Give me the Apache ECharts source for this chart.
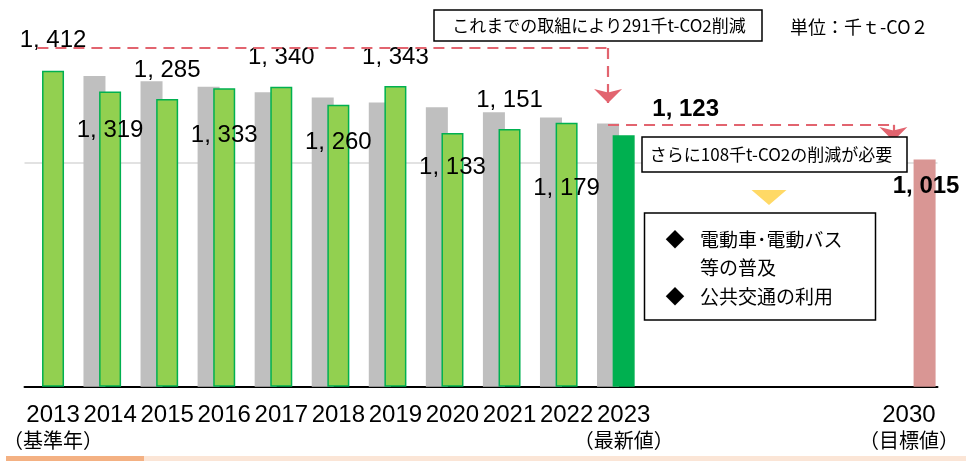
<!DOCTYPE html>
<html>
<head>
<meta charset="utf-8">
<script src="https://cdn.jsdelivr.net/npm/echarts@6.0.0/dist/echarts.min.js"></script>
<style>
  html, body { margin: 0; padding: 0; background: #fff; }
  #chart { width: 968px; height: 461px; }
</style>
</head>
<body>
<div id="chart"></div>
<script>
// categories (blank slots keep the gap between 2023 and 2030)
const categories = ['2013', '2014', '2015', '2016', '2017', '2018', '2019', '2020', '2021', '2022', '2023', '', '', '', '', '2030'];
const categoryNotes = ['（基準年）', '', '', '', '', '', '', '', '', '', '（最新値）', '', '', '', '', '（目標値）'];

// 千t-CO2
const actualValues = [1412, 1319, 1285, 1333, 1340, 1260, 1343, 1133, 1151, 1179, 1123, null, null, null, null, null];
const pathValues = [null, 1388, 1365, 1340, 1316, 1292, 1270, 1248, 1226, 1203, 1176, null, null, null, null, null];
const targetValues = [null, null, null, null, null, null, null, null, null, null, null, null, null, null, null, 1015];

const FONT_NUM = '"Liberation Sans", Arial, sans-serif';
const FONT_JP = '"Noto Sans CJK JP", sans-serif';
const RED = '#E2646F';

function fmt(v) {
  const s = String(v);
  return s.slice(0, s.length - 3) + ', ' + s.slice(-3);
}

// where each value label sits, relative to the top-left of its bar
const labelPos = [[11, -30], [11, 39], [11, -29], [11, 47], [11, -29], [11, 38], [11, -29], [11, 34], [11, -29], [11, 66], [73, -26]];

const actualData = actualValues.map((v, i) => {
  if (v == null) return '-';
  const latest = i === 10;
  return {
    value: v,
    itemStyle: latest ? { color: '#00B050', borderColor: '#00B050' } : undefined,
    label: {
      position: labelPos[i],
      fontWeight: latest ? 'bold' : 'normal'
    }
  };
});

// dashed arrows (data coords: category index, value)
const arrowLines = [
  [[0.33, 1513], [10, 1513], false],
  [[10, 1513], [10, 1268], true],
  [[10.2, 1170], [15.28, 1170], false],
  [[15.28, 1170], [15.28, 1098], true]
];

const chart = echarts.init(document.getElementById('chart'));

const option = {
  animation: false,
  grid: { left: 24.5, right: 30.5, top: 6.2, bottom: 74.3 },
  xAxis: {
    type: 'category',
    data: categories,
    axisLine: { lineStyle: { color: '#000', width: 2 } },
    axisTick: { show: false },
    axisLabel: {
      interval: 0,
      margin: 16,
      formatter: (v, i) => '{a|' + v + '}' + (categoryNotes[i] ? '\n{b|' + categoryNotes[i] + '}' : ''),
      rich: {
        a: { fontFamily: FONT_NUM, fontSize: 24, lineHeight: 25, color: '#000' },
        b: { fontFamily: FONT_JP, fontSize: 20, lineHeight: 25, color: '#000' }
      }
    }
  },
  yAxis: {
    type: 'value',
    min: 0,
    max: 1700,
    interval: 1000,
    axisLine: { show: false },
    axisTick: { show: false },
    axisLabel: { show: false },
    splitLine: {
      show: true,
      showMinLine: false,
      showMaxLine: false,
      lineStyle: { color: '#D9D9D9', width: 1.5 }
    }
  },
  series: [
    {
      name: 'path',
      type: 'bar',
      data: pathValues.map(v => v == null ? '-' : v),
      barWidth: 22,
      barGap: '-29%',
      itemStyle: { color: '#BFBFBF' },
      markLine: {
        silent: true,
        label: { show: false },
        lineStyle: { color: RED, width: 2.2, type: [11, 7] },
        data: arrowLines.map(([a, b, head]) => [
          { coord: a, symbol: 'none' },
          { coord: b, symbol: head ? 'arrow' : 'none', symbolSize: [21, 14] }
        ])
      }
    },
    {
      name: 'actual',
      type: 'bar',
      data: actualData,
      barWidth: 22,
      barGap: '-29%',
      itemStyle: { color: '#92D050', borderColor: '#00B050', borderWidth: 1.5 },
      label: {
        show: true,
        formatter: p => fmt(p.value),
        align: 'center',
        verticalAlign: 'middle',
        fontFamily: FONT_NUM,
        fontSize: 24,
        color: '#000'
      }
    },
    {
      name: 'target',
      type: 'bar',
      data: targetValues.map(v => v == null ? '-' : v),
      barWidth: 22,
      barGap: '-29%',
      itemStyle: { color: '#D99694' },
      label: {
        show: true,
        position: [12.5, 27],
        align: 'center',
        verticalAlign: 'middle',
        formatter: p => fmt(p.value),
        fontFamily: FONT_NUM,
        fontSize: 24,
        fontWeight: 'bold',
        color: '#000'
      }
    }
  ],
  graphic: [
    {
      type: 'rect', z: 10,
      shape: { x: 434, y: 10, width: 328, height: 31 },
      style: { fill: '#fff', stroke: '#000', lineWidth: 1.5 }
    },
    {
      type: 'text', z: 11, x: 599, y: 26,
      style: { text: 'これまでの取組により291千t-CO2削減', font: '17px ' + FONT_JP, fill: '#000', align: 'center', verticalAlign: 'middle' }
    },
    {
      type: 'text', z: 11, x: 790, y: 27,
      style: { text: '単位：千ｔ-CO２', font: '18px ' + FONT_JP, fill: '#000', align: 'left', verticalAlign: 'middle' }
    },
    {
      type: 'rect', z: 10,
      shape: { x: 642, y: 137, width: 265, height: 35 },
      style: { fill: '#fff', stroke: '#000', lineWidth: 1.5 }
    },
    {
      type: 'text', z: 11, x: 771, y: 155,
      style: { text: 'さらに108千t-CO2の削減が必要', font: '17px ' + FONT_JP, fill: '#000', align: 'center', verticalAlign: 'middle' }
    },
    {
      type: 'polygon', z: 10,
      shape: { points: [[751.5, 190], [786.5, 190], [769, 205]] },
      style: { fill: '#FFD966' }
    },
    {
      type: 'rect', z: 10,
      shape: { x: 644.5, y: 213, width: 231, height: 107 },
      style: { fill: '#fff', stroke: '#000', lineWidth: 1.5 }
    },
    {
      type: 'text', z: 11, x: 675, y: 240,
      style: { text: '◆', font: '19px ' + FONT_JP, fill: '#000', align: 'center', verticalAlign: 'middle' }
    },
    {
      type: 'text', z: 11, x: 675, y: 297,
      style: { text: '◆', font: '19px ' + FONT_JP, fill: '#000', align: 'center', verticalAlign: 'middle' }
    },
    {
      type: 'text', z: 11, x: 700, y: 240,
      style: { text: '電動車･電動バス', font: '19px ' + FONT_JP, fill: '#000', align: 'left', verticalAlign: 'middle' }
    },
    {
      type: 'text', z: 11, x: 700, y: 268,
      style: { text: '等の普及', font: '19px ' + FONT_JP, fill: '#000', align: 'left', verticalAlign: 'middle' }
    },
    {
      type: 'text', z: 11, x: 700, y: 297,
      style: { text: '公共交通の利用', font: '19px ' + FONT_JP, fill: '#000', align: 'left', verticalAlign: 'middle' }
    },
    {
      type: 'rect', z: 10,
      shape: { x: 6, y: 456, width: 138, height: 5 },
      style: { fill: '#F4B183' }
    },
    {
      type: 'rect', z: 10,
      shape: { x: 144, y: 456, width: 822, height: 5 },
      style: { fill: '#FBE5D6' }
    }
  ]
};

chart.setOption(option);
</script>
</body>
</html>
